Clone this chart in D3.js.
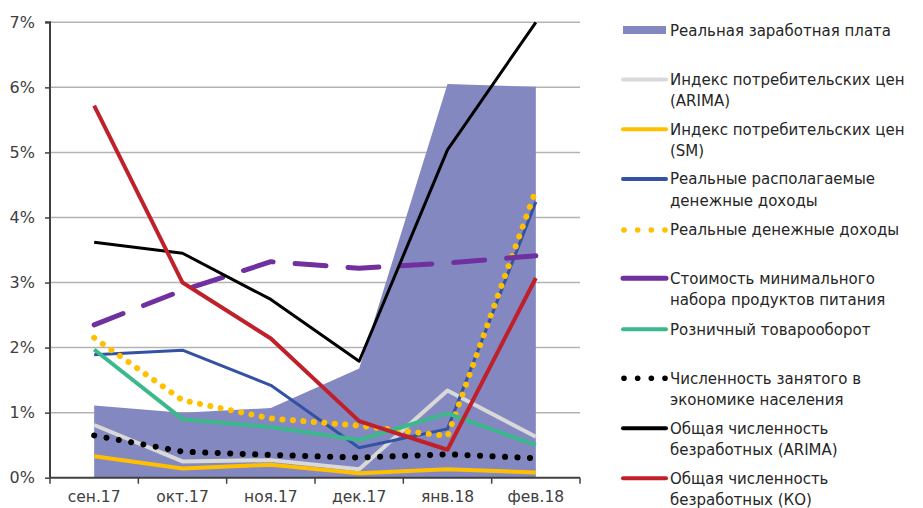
<!DOCTYPE html>
<html><head><meta charset="utf-8">
<script src="https://cdn.jsdelivr.net/npm/d3@7"></script>
<style>
html,body{margin:0;padding:0;background:#fff;}
svg{display:block;font-family:"DejaVu Sans",sans-serif;}
</style></head>
<body><svg id="c" width="923" height="508"></svg>
<script>
const categories = ["сен.17","окт.17","ноя.17","дек.17","янв.18","фев.18"];
const yTicks = [0,0.01,0.02,0.03,0.04,0.05,0.06,0.07];

const realWage      = [1.11, 1.00, 1.07, 1.68, 6.05, 6.01];
const cpiArima      = [0.81, 0.25, 0.27, 0.13, 1.34, 0.63];
const cpiSM         = [0.33, 0.14, 0.20, 0.07, 0.13, 0.08];
const realDispIncome= [1.89, 1.96, 1.42, 0.46, 0.75, 4.24];
const realIncome    = [2.15, 1.19, 0.91, 0.80, 0.64, 4.42];
const minBasket     = [2.35, 2.88, 3.32, 3.22, 3.30, 3.41];
const retail        = [1.97, 0.90, 0.78, 0.58, 0.99, 0.50];
const employed      = [0.65, 0.40, 0.35, 0.31, 0.36, 0.30];
const unempArima    = [3.62, 3.45, 2.74, 1.79, 5.04, 7.00];
const unempKO       = [5.72, 3.00, 2.14, 0.87, 0.43, 3.07];

const lineSeries = [
  {name:["Индекс потребительских цен","(ARIMA)"], data:cpiArima, color:"#d9d9d9", w:4, dash:null},
  {name:["Индекс потребительских цен","(SM)"], data:cpiSM, color:"#ffc000", w:4, dash:null},
  {name:["Реальные располагаемые","денежные доходы"], data:realDispIncome, color:"#3352a3", w:3, dash:null},
  {name:["Реальные денежные доходы"], data:realIncome, color:"#ffc000", w:6, dash:"0.1,10.4", cap:"round", dots:true},
  {name:["Стоимость минимального","набора продуктов питания"], data:minBasket, color:"#7030a0", w:5, dash:"31,22", cap:"round"},
  {name:["Розничный товарооборот"], data:retail, color:"#3bb98c", w:4, dash:null},
  {name:["Численность занятого в","экономике населения"], data:employed, color:"#000000", w:6, dash:"0.1,12.4", cap:"round", dots:true},
  {name:["Общая численность","безработных (ARIMA)"], data:unempArima, color:"#000000", w:3, dash:null},
  {name:["Общая численность","безработных (КО)"], data:unempKO, color:"#c0202a", w:4, dash:null}
];

const svg = d3.select("#c");
const x0 = 50, x1 = 580, yTop = 22.3, yBot = 477.7;
const x = d3.scaleBand().domain(categories).range([x0, x1]).padding(0);
const cx = c => x(c) + x.bandwidth()/2;
const y = d3.scaleLinear().domain([0, 0.07]).range([yBot, yTop]);

// gridlines
svg.append("g").selectAll("line").data(yTicks.slice(1)).join("line")
  .attr("x1", x0).attr("x2", x1).attr("y1", d=>y(d)).attr("y2", d=>y(d))
  .attr("stroke", "#b3b3b3").attr("stroke-width", 1.5);

// area
const areaData = categories.map((c,i)=>({c, v:realWage[i]/100}));
svg.append("path").datum(areaData)
  .attr("d", d3.area().x(d=>cx(d.c)).y0(y(0)).y1(d=>y(d.v)))
  .attr("fill", "#8488c0");

// lines
const lineGen = d3.line().x(d=>cx(d.c)).y(d=>y(d.v));
lineSeries.forEach(s=>{
  const pts = categories.map((c,i)=>({c, v:s.data[i]/100}));
  svg.append("path").datum(pts).attr("d", lineGen)
    .attr("fill","none").attr("stroke", s.color).attr("stroke-width", s.w)
    .attr("stroke-dasharray", s.dash).attr("stroke-linecap", s.cap || "butt")
    .attr("stroke-linejoin","round");
});

// y axis
const yAxis = d3.axisLeft(y).tickValues(yTicks).tickFormat(d3.format(".0%")).tickSize(5).tickPadding(10);
const gy = svg.append("g").attr("transform", `translate(${x0},0)`).call(yAxis);
gy.select(".domain").attr("stroke", "#404040").attr("stroke-width", 2).attr("d", `M-5,${yTop}H0V${yBot}`);
gy.selectAll(".tick line").attr("stroke", "#404040").attr("stroke-width", 1.5);
gy.selectAll(".tick text").attr("font-size", 16).attr("fill", "#404040").attr("font-family","DejaVu Sans");

// x axis
const gx = svg.append("g").attr("transform", `translate(0,${yBot})`);
gx.append("line").attr("x1", x0).attr("x2", x1).attr("stroke", "#404040").attr("stroke-width", 2);
const edges = categories.map(c=>x(c)).concat([x1]);
gx.selectAll("line.t").data(edges).join("line").attr("class","t")
  .attr("x1", d=>d).attr("x2", d=>d).attr("y1", 0).attr("y2", 6)
  .attr("stroke", "#404040").attr("stroke-width", 1.5);
gx.selectAll("text").data(categories).join("text")
  .attr("x", d=>cx(d)).attr("y", 24).attr("text-anchor","middle")
  .attr("font-size", 15.5).attr("fill", "#404040").text(d=>d);

// legend
const lg = svg.append("g");
const sx0 = 623, sx1 = 666, tx = 670, lh = 21.5;
lg.append("rect").attr("x", sx0).attr("y", 26).attr("width", sx1-sx0).attr("height", 8).attr("fill", "#8488c0");
lg.append("text").attr("x", tx).attr("y", 30.5).attr("dy","0.35em").attr("font-size", 15).attr("fill","#262626").text("Реальная заработная плата");
const rowY = [79.5, 129.3, 179, 230, 278.3, 329.3, 378.3, 428.3, 478.3];
lineSeries.forEach((s,i)=>{
  const yy = rowY[i];
  if (s.dots) {
    const n = 4, step = (sx1-sx0-2)/(n-1);
    lg.selectAll(null).data(d3.range(n)).join("circle")
      .attr("cx", k=>sx0+1+k*step).attr("cy", yy).attr("r", 2.8).attr("fill", s.color);
  } else {
    lg.append("line").attr("x1", sx0).attr("x2", sx1).attr("y1", yy).attr("y2", yy)
      .attr("stroke", s.color).attr("stroke-width", s.w===5?5:4).attr("stroke-linecap","round");
  }
  const t = lg.append("text").attr("x", tx).attr("y", yy).attr("font-size", 15).attr("fill","#262626");
  s.name.forEach((line,j)=>{
    t.append("tspan").attr("x", tx).attr("dy", j===0 ? "0.35em" : lh).text(line);
  });
});
</script></body></html>
